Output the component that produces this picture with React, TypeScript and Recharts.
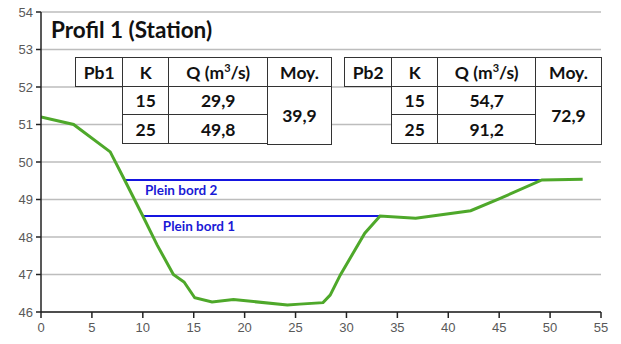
import React from 'react';
import { LineChart, Line, XAxis, YAxis, CartesianGrid } from 'recharts';

const profileX = [0, 3.2, 6.8, 8.25, 10.0, 11.4, 13.0, 14.05, 15.1, 16.8, 18.9, 24.2, 25.4, 27.7, 28.4, 29.4, 31.8, 33.3, 36.8, 42.2, 45.1, 49.2, 53.2];
const profileY = [51.2, 51.0, 50.27, 49.5, 48.56, 47.79, 47.0, 46.8, 46.38, 46.27, 46.33, 46.19, 46.21, 46.25, 46.45, 46.99, 48.1, 48.56, 48.5, 48.7, 49.03, 49.52, 49.54];

const bord2X = [8.25, 49.2];
const bord2Y = 49.52;
const bord1X = [10.0, 33.3];
const bord1Y = 48.56;
const bord2Label = 'Plein bord 2';
const bord1Label = 'Plein bord 1';

const xTicks = [0, 5, 10, 15, 20, 25, 30, 35, 40, 45, 50, 55];
const yTicks = [46, 47, 48, 49, 50, 51, 52, 53, 54];

const title = 'Profil 1 (Station)';
const table1Name = 'Pb1';
const table2Name = 'Pb2';
const kValues = ['15', '25'];
const q1Values = ['29,9', '49,8'];
const q2Values = ['54,7', '91,2'];
const moy1 = '39,9';
const moy2 = '72,9';

const profile = profileX.map((x, i) => ({ x, y: profileY[i] }));
const bord2 = bord2X.map((x) => ({ x, y: bord2Y }));
const bord1 = bord1X.map((x) => ({ x, y: bord1Y }));

const FONT = 'Lato, "Open Sans", sans-serif';

const makeLabelDot = (text: string) => (props: any) => {
  const { cx, cy, index } = props;
  if (index !== 0) return <g key={`d${index}`} />;
  return (
    <text key={`d${index}`} x={cx + 20} y={cy + 15} fill="#1a1ad6" fontSize={13.5} fontWeight={700} fontFamily={FONT}>
      {text}
    </text>
  );
};

const cellBase: React.CSSProperties = {
  position: 'absolute',
  boxSizing: 'border-box',
  background: '#fff',
  border: '1.5px solid #333',
  display: 'flex',
  alignItems: 'center',
  justifyContent: 'center',
  fontFamily: FONT,
  fontWeight: 700,
  fontSize: 17.5,
  color: '#111',
};

function QHeader() {
  return (
    <span>
      Q (m<sup style={{ fontSize: 11, verticalAlign: 'top', lineHeight: '11px' }}>3</sup>/s)
    </span>
  );
}

function DataTable({ left, widths, name, qs, moy }: { left: number; widths: number[]; name: string; qs: string[]; moy: string }) {
  const top = 57;
  const rh = [30, 29, 29];
  const xs = [left];
  widths.forEach((w, i) => xs.push(xs[i] + w));
  const cells: React.ReactNode[] = [];
  cells.push(<div key="n" style={{ ...cellBase, left: xs[0], top, width: widths[0] + 1.5, height: rh[0] }}>{name}</div>);
  cells.push(<div key="k" style={{ ...cellBase, left: xs[1], top, width: widths[1] + 1.5, height: rh[0] }}>K</div>);
  cells.push(<div key="q" style={{ ...cellBase, left: xs[2], top, width: widths[2] + 1.5, height: rh[0] }}><QHeader /></div>);
  cells.push(<div key="m" style={{ ...cellBase, left: xs[3], top, width: widths[3], height: rh[0] }}>Moy.</div>);
  kValues.forEach((k, i) => {
    const y = top + rh[0] - 1.5 + i * (rh[1] - 0.5);
    cells.push(<div key={`k${i}`} style={{ ...cellBase, left: xs[1], top: y, width: widths[1] + 1.5, height: rh[1] + 1 }}>{k}</div>);
    cells.push(<div key={`q${i}`} style={{ ...cellBase, left: xs[2], top: y, width: widths[2] + 1.5, height: rh[1] + 1 }}>{qs[i]}</div>);
  });
  cells.push(<div key="mv" style={{ ...cellBase, left: xs[3], top: top + rh[0] - 1.5, width: widths[3], height: rh[1] + rh[2] + 1.5 }}>{moy}</div>);
  return <>{cells}</>;
}

export default function App() {
  return (
    <div style={{ position: 'absolute', left: 0, top: 0, width: 621, height: 344, background: '#fff' }}>
      <LineChart width={621} height={344} margin={{ top: 12, right: 20, left: 0, bottom: 0 }}>
        <CartesianGrid vertical={false} stroke="#bdbdbd" strokeWidth={1.5} />
        <XAxis
          type="number"
          dataKey="x"
          domain={[0, 55]}
          ticks={xTicks}
          height={32}
          tickSize={6}
          tickMargin={5}
          stroke="#222"
          strokeWidth={1.5}
          tick={{ fill: '#595959', fontSize: 13, fontFamily: 'Liberation Sans, Arial, sans-serif' }}
          allowDataOverflow
        />
        <YAxis
          type="number"
          dataKey="y"
          domain={[46, 54]}
          ticks={yTicks}
          width={41}
          tickSize={5}
          tickMargin={3}
          stroke="#222"
          strokeWidth={1.5}
          tick={{ fill: '#595959', fontSize: 13, fontFamily: 'Liberation Sans, Arial, sans-serif' }}
          allowDataOverflow
        />
        <Line data={bord2} dataKey="y" stroke="#1515e0" strokeWidth={2} dot={makeLabelDot(bord2Label)} activeDot={false} isAnimationActive={false} />
        <Line data={bord1} dataKey="y" stroke="#1515e0" strokeWidth={2} dot={makeLabelDot(bord1Label)} activeDot={false} isAnimationActive={false} />
        <Line data={profile} dataKey="y" stroke="#4ea82a" strokeWidth={3} dot={false} activeDot={false} isAnimationActive={false} />
      </LineChart>
      <div style={{ position: 'absolute', left: 51, top: 16, fontFamily: FONT, fontWeight: 700, fontSize: 22.5, color: '#111', whiteSpace: 'nowrap' }}>
        {title}
      </div>
      <DataTable left={75} widths={[47, 46, 99, 65]} name={table1Name} qs={q1Values} moy={moy1} />
      <DataTable left={344} widths={[47, 46, 98, 67]} name={table2Name} qs={q2Values} moy={moy2} />
    </div>
  );
}
